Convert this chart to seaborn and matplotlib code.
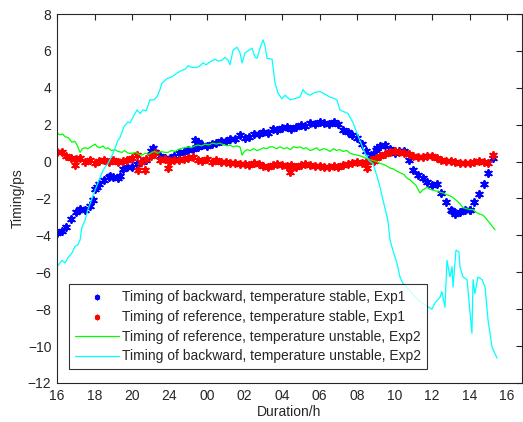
import numpy as np
import pandas as pd
import matplotlib
matplotlib.use("Agg")
import matplotlib.pyplot as plt
import seaborn as sns

# Exp1, sampled every 0.25 h (hours since 16:00)
blue_y = [-3.85, -3.75, -3.55, -3.1, -2.75, -2.55, -2.65, -2.4, -1.5, -1.2,
          -1.0, -0.85, -0.85, -0.9, -0.4, -0.3, -0.3, -0.15, 0.0, 0.1,
          0.55, 0.5, 0.3, 0.2, 0.2, 0.3, 0.45, 0.5, 0.65, 0.7,
          0.8, 0.9, 0.85, 0.95, 1.0, 1.1, 1.1, 1.25, 1.2, 1.45,
          1.3, 1.35, 1.5, 1.5, 1.6, 1.55, 1.75, 1.7, 1.8, 1.9,
          1.75, 1.85, 2.0, 1.95, 2.1, 2.05, 2.15, 2.1, 2.05, 2.15,
          2.05, 1.7, 1.6, 1.45, 1.3, 0.95, 0.55, 0.35, 0.65, 0.85,
          0.9, 0.7, 0.45, 0.55, 0.6, 0.1, -0.45, -0.75, -0.9, -1.1,
          -1.25, -1.2, -1.7, -2.2, -2.6, -2.85, -2.75, -2.65, -2.65, -2.2,
          -1.75, -1.2, -0.6, 0.2]
blue_extra_t = [1.92, 2.13, 2.83, 3.36, 5.12, 7.36, 7.52, 16.8, 17.07, 21.07, 22.03]
blue_extra_y = [-2.1, -1.35, -0.8, -0.8, 0.75, 1.15, 1.05, 0.3, 0.75, -2.7, -2.6]

red_y = [0.5, 0.5, 0.3, 0.2, 0.15, 0.2, 0.0, 0.1, -0.05, 0.05,
         0.1, 0.0, 0.1, 0.0, 0.05, 0.1, 0.2, 0.35, 0.0, 0.15,
         0.3, 0.45, 0.1, 0.15, 0.05, 0.1, 0.1, 0.15, 0.2, 0.25,
         0.1, 0.05, 0.15, 0.0, 0.1, 0.0, 0.0, -0.05, -0.1, -0.15,
         -0.15, -0.2, -0.1, -0.15, -0.25, -0.3, -0.2, -0.15, -0.2, -0.25,
         -0.2, -0.3, -0.2, -0.15, -0.2, -0.25, -0.25, -0.3, -0.3, -0.25,
         -0.3, -0.2, -0.15, -0.05, 0.0, -0.05, 0.0, 0.1, 0.2, 0.3,
         0.4, 0.5, 0.6, 0.5, 0.45, 0.4, 0.3, 0.25, 0.25, 0.3,
         0.3, 0.2, 0.1, 0.05, 0.05, 0.0, -0.05, -0.1, -0.05, 0.0,
         0.05, 0.0, -0.05, 0.35]
red_extra_t = [0.96, 4.32, 4.69, 5.92, 12.43, 16.53, 16.9]
red_extra_y = [-0.2, -0.45, -0.45, -0.35, -0.55, -0.35, 0.05]

# Exp2 lines
green_t = [0.0, 0.15, 0.3, 0.43, 0.6, 0.8, 0.95, 1.07, 1.23, 1.35, 1.49, 1.65, 1.8,
           2.03, 2.15, 2.29, 2.45, 2.6, 2.72, 2.9, 3.09, 3.25, 3.47, 3.6, 3.8, 4.0,
           4.2, 4.35, 4.53, 4.7, 4.9, 5.07, 5.2, 5.39, 5.55, 5.75, 5.92, 6.1, 6.3,
           6.45, 6.6, 6.8, 6.99, 7.15, 7.35, 7.52, 7.7, 7.9, 8.1, 8.3, 8.5, 8.69,
           8.9, 9.1, 9.25, 9.39, 9.55, 9.76, 9.87, 10.0, 10.13, 10.3, 10.5, 10.65,
           10.83, 11.0, 11.2, 11.35, 11.52, 11.7, 11.9, 12.1, 12.27, 12.45, 12.6,
           12.8, 12.96, 13.15, 13.3, 13.5, 13.65, 13.85, 14.0, 14.2, 14.4, 14.55,
           14.75, 14.9, 15.09, 15.25, 15.45, 15.63, 15.8, 16.0, 16.2, 16.45, 16.69,
           16.9, 17.05, 17.23, 17.4, 17.6, 17.76, 17.95, 18.1, 18.29, 18.5, 18.67,
           18.85, 18.99, 19.15, 19.36, 19.5, 19.73, 19.9, 20.05, 20.25, 20.4, 20.59,
           20.8, 20.95, 21.12, 21.3, 21.5, 21.65, 21.85, 22.0, 22.19, 22.35, 22.55,
           22.72, 22.9, 23.09, 23.25, 23.36]
green_y = [1.55, 1.45, 1.5, 1.35, 1.3, 1.05, 1.1, 0.9, 0.5, 0.7, 0.75, 0.7, 0.8,
           0.95, 0.8, 0.75, 0.85, 0.7, 0.75, 0.6, 0.65, 0.55, 0.5, 0.6, 0.45, 0.45,
           0.5, 0.4, 0.35, 0.45, 0.4, 0.5, 0.55, 0.45, 0.55, 0.5, 0.5, 0.6, 0.55,
           0.65, 0.7, 0.75, 0.8, 0.75, 0.85, 0.9, 0.85, 0.95, 0.9, 1.0, 0.95, 1.0,
           0.9, 0.85, 0.9, 0.8, 0.85, 0.8, 0.35, 0.55, 0.65, 0.6, 0.7, 0.6,
           0.65, 0.75, 0.7, 0.8, 0.8, 0.7, 0.8, 0.7, 0.75, 0.65, 0.8,
           0.75, 0.8, 0.7, 0.75, 0.6, 0.65, 0.75, 0.6, 0.7, 0.65, 0.55,
           0.7, 0.6, 0.65, 0.55, 0.6, 0.45, 0.4, 0.35, 0.3, 0.2, 0.1,
           0.05, 0.0, -0.1, -0.15, -0.25, -0.35, -0.4, -0.5, -0.6, -0.7, -0.9,
           -1.0, -1.15, -1.3, -1.7, -1.55, -1.4, -1.5, -1.55, -1.6, -1.65, -1.7,
           -1.8, -1.85, -1.95, -2.1, -2.3, -2.5, -2.55, -2.6, -2.6, -2.75, -2.85,
           -2.9, -3.1, -3.35, -3.55, -3.7]

cyan_t = [0.0, 0.27, 0.43, 0.59, 0.8, 0.96, 1.12, 1.23, 1.33, 1.49, 1.65, 1.87,
          2.03, 2.24, 2.4, 2.56, 2.72, 2.99, 3.25, 3.36, 3.57, 3.79, 3.89, 4.05,
          4.27, 4.43, 4.59, 4.75, 4.96, 5.17, 5.33, 5.49, 5.6, 5.87, 6.13, 6.4,
          6.67, 6.83, 6.99, 7.2, 7.47, 7.63, 7.79, 7.95, 8.16, 8.43, 8.59, 8.8,
          8.96, 9.12, 9.23, 9.39, 9.6, 9.76, 9.87, 10.03, 10.19, 10.4, 10.56, 10.67,
          10.83, 10.99, 11.09, 11.2, 11.47, 11.63, 11.79, 12.0, 12.16, 12.43, 12.64,
          12.8, 12.96, 13.12, 13.28, 13.49, 13.76, 14.03, 14.29, 14.56, 14.83, 14.93,
          15.09, 15.31, 15.52, 15.79, 16.0, 16.21, 16.43, 16.64, 16.85, 17.07, 17.23,
          17.39, 17.65, 17.76, 17.97, 18.13, 18.29, 18.45, 18.83, 19.25, 19.68, 20.0,
          20.16, 20.43, 20.53, 20.69, 20.8, 20.96, 21.07, 21.12, 21.28, 21.44, 21.49,
          21.65, 21.87, 22.03, 22.13, 22.19, 22.29, 22.45, 22.67, 22.83, 22.99, 23.2,
          23.47]
cyan_y = [-5.7, -5.35, -5.5, -5.2, -4.95, -4.6, -4.5, -4.25, -3.55, -3.2, -2.6, -2.0,
          -1.55, -1.0, -0.6, -0.3, -0.1, 0.45, 1.15, 1.3, 1.9, 2.15, 2.1, 2.4,
          2.8, 2.6, 2.8, 2.75, 3.35, 3.35, 3.5, 3.9, 4.25, 4.5, 4.6, 4.8,
          4.95, 5.0, 5.2, 5.1, 5.1, 5.2, 5.35, 5.25, 5.4, 5.55, 5.45, 5.5,
          5.65, 5.5, 5.25, 6.05, 6.2, 5.9, 5.35, 5.9, 6.0, 6.15, 5.65, 5.6,
          6.15, 6.6, 6.3, 5.6, 5.55, 4.25, 3.7, 3.4, 3.6, 3.35, 3.4,
          3.45, 3.5, 3.9, 3.7, 3.6, 3.75, 3.8, 3.65, 3.5, 3.4, 3.35,
          2.8, 2.7, 2.6, 2.1, 1.55, 1.0, 0.45, 0.05, -0.1, -0.8, -1.4,
          -2.1, -3.2, -4.25, -5.0, -5.5, -6.25, -6.6, -7.0, -7.5, -7.8, -8.0,
          -7.65, -7.35, -7.05, -7.9, -5.35, -6.25, -5.7, -6.8, -4.8, -4.9, -5.7,
          -6.25, -6.4, -8.2, -9.3, -6.4, -7.15, -6.25, -6.4, -6.8, -8.6, -10.05,
          -10.65]

x_ticks = [0, 2, 4, 6, 8, 10, 12, 14, 16, 18, 20, 22, 24]
x_labels = ["16", "18", "20", "24", "00", "02", "04", "06", "08", "10", "12", "14", "16"]
y_ticks = [-12, -10, -8, -6, -4, -2, 0, 2, 4, 6, 8]

labels = ["Timing of backward, temperature stable, Exp1",
          "Timing of reference, temperature stable, Exp1",
          "Timing of reference, temperature unstable, Exp2",
          "Timing of backward, temperature unstable, Exp2"]

blue = pd.DataFrame({"t": list(np.arange(len(blue_y)) * 0.25) + blue_extra_t,
                     "v": blue_y + blue_extra_y})
red = pd.DataFrame({"t": list(np.arange(len(red_y)) * 0.25) + red_extra_t,
                    "v": red_y + red_extra_y})
green = pd.DataFrame({"t": green_t, "v": green_y})
cyan = pd.DataFrame({"t": cyan_t, "v": cyan_y})

sns.set_style("white")
plt.rcParams['font.family'] = ['Liberation Sans', 'DejaVu Sans']

fig = plt.figure(figsize=(5.23, 4.22), dpi=100)
ax = fig.add_axes([57 / 523, 39 / 422, 465 / 523, 369 / 422])

asterisk = (6, 2, 0)
sns.scatterplot(data=blue, x="t", y="v", ax=ax, marker=asterisk, s=26,
                color="#0000ff", edgecolor="#0000ff", linewidth=1.4, label=labels[0])
sns.scatterplot(data=red, x="t", y="v", ax=ax, marker=asterisk, s=26,
                color="#ff0000", edgecolor="#ff0000", linewidth=1.4, label=labels[1])
sns.lineplot(data=green, x="t", y="v", ax=ax, color="#00ff00", lw=0.9,
             estimator=None, label=labels[2])
sns.lineplot(data=cyan, x="t", y="v", ax=ax, color="#00ffff", lw=0.9,
             estimator=None, label=labels[3])

ax.set_xlim(0, 24.8)
ax.set_ylim(-12, 8)
ax.set_xticks(x_ticks)
ax.set_xticklabels(x_labels)
ax.set_yticks(y_ticks)
ax.tick_params(direction="in", length=4, width=0.8, top=True, right=True,
               labelsize=10, colors="#262626", pad=4)
for sp in ax.spines.values():
    sp.set_color("#262626")
    sp.set_linewidth(0.8)
ax.set_xlabel("Duration/h", fontsize=10, labelpad=2)
ax.set_ylabel("Timing/ps", fontsize=10, labelpad=2)

leg = ax.legend(loc="lower left", bbox_to_anchor=(12 / 465, 14 / 369), borderaxespad=0,
                fontsize=10, frameon=True, fancybox=False, edgecolor="black",
                handlelength=3.2, handletextpad=0.25, labelspacing=0.42,
                borderpad=0.4, markerscale=0.55)
leg.get_frame().set_linewidth(0.8)

fig.savefig("out.png", dpi=100)
